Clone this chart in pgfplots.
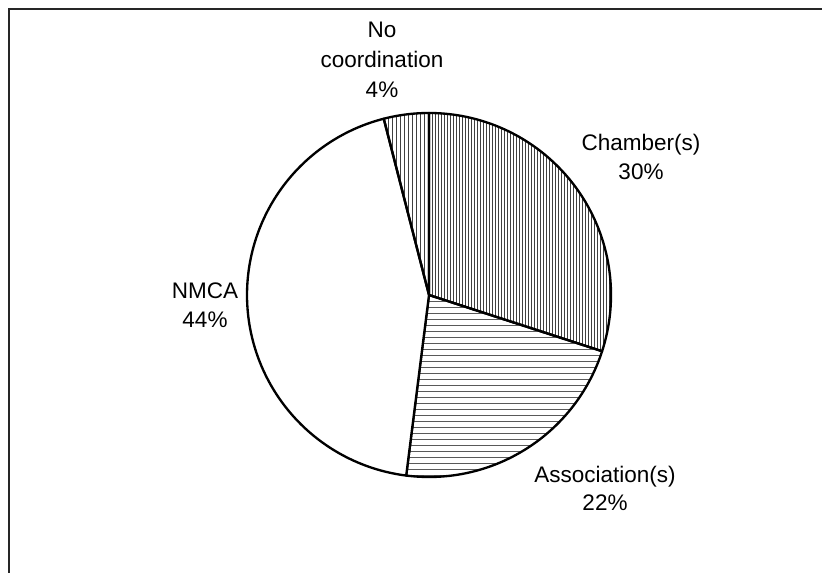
\documentclass[border=0pt]{standalone}
\usepackage{fontspec}
\setmainfont{Liberation Sans}
\usepackage{pgfplots}
\pgfplotsset{compat=1.18}
\usepackage{pgfplotstable}
\usetikzlibrary{patterns.meta}

% share of each kind of coordination (percent), clockwise from the top
\pgfplotstableread{
label        pct
Chamber      30
Association  22
NMCA         44
Nocoord      4
}\piedata

\newcommand{\pieR}{182}
% \pieslice{row}{style}: draws one slice, starting where the last one ended
\newcommand{\pieslice}[2]{%
  \pgfplotstablegetelem{#1}{pct}\of\piedata
  \pgfmathsetmacro\angB{\angA-3.6*\pgfplotsretval}%
  \edef\temp{\noexpand\addplot[#2,draw=black,line width=1.4pt,line join=round,
      domain=\angB:\angA,samples=120]
      ({\pieR*cos(x)},{\pieR*sin(x)}) -- (axis cs:0,0) -- cycle;}%
  \temp
  \global\let\angA\angB
}

\begin{document}
\begin{tikzpicture}[lab/.style={font=\fontsize{13.5}{16}\selectfont,anchor=base,inner sep=0pt}]
  \begin{axis}[
      x=0.6pt, y=0.6pt,
      xmin=-429, xmax=393,
      ymin=-277, ymax=295,
      hide axis,
      clip=true,
    ]
    % frame (only its top and left edges fall inside the picture)
    \draw[black!85,line width=1.2pt] (axis cs:-420,286) rectangle (axis cs:480,-400);

    \gdef\angA{90}
    \pieslice{0}{pattern={Lines[angle=90,distance=1.8pt,line width=0.5pt]},pattern color=black!75}
    \pieslice{1}{pattern={Lines[angle=0,distance=3.6pt,line width=0.6pt]},pattern color=black!65}
    \pieslice{2}{fill=white}
    \pieslice{3}{pattern={Lines[angle=90,distance=2.4pt,line width=0.5pt]},pattern color=black!75}

    \node[lab] at (axis cs:-47,257) {No};
    \node[lab] at (axis cs:-47,227) {coordination};
    \node[lab] at (axis cs:-47,197) {4\%};
    \node[lab] at (axis cs:212,144) {Chamber(s)};
    \node[lab] at (axis cs:212,115.5) {30\%};
    \node[lab] at (axis cs:-224,-4) {NMCA};
    \node[lab] at (axis cs:-224,-33) {44\%};
    \node[lab] at (axis cs:176,-188) {Association(s)};
    \node[lab] at (axis cs:176,-216) {22\%};
  \end{axis}
  \pgfresetboundingbox
  \path[use as bounding box] (current axis.south west) rectangle (current axis.north east);
\end{tikzpicture}
\end{document}
